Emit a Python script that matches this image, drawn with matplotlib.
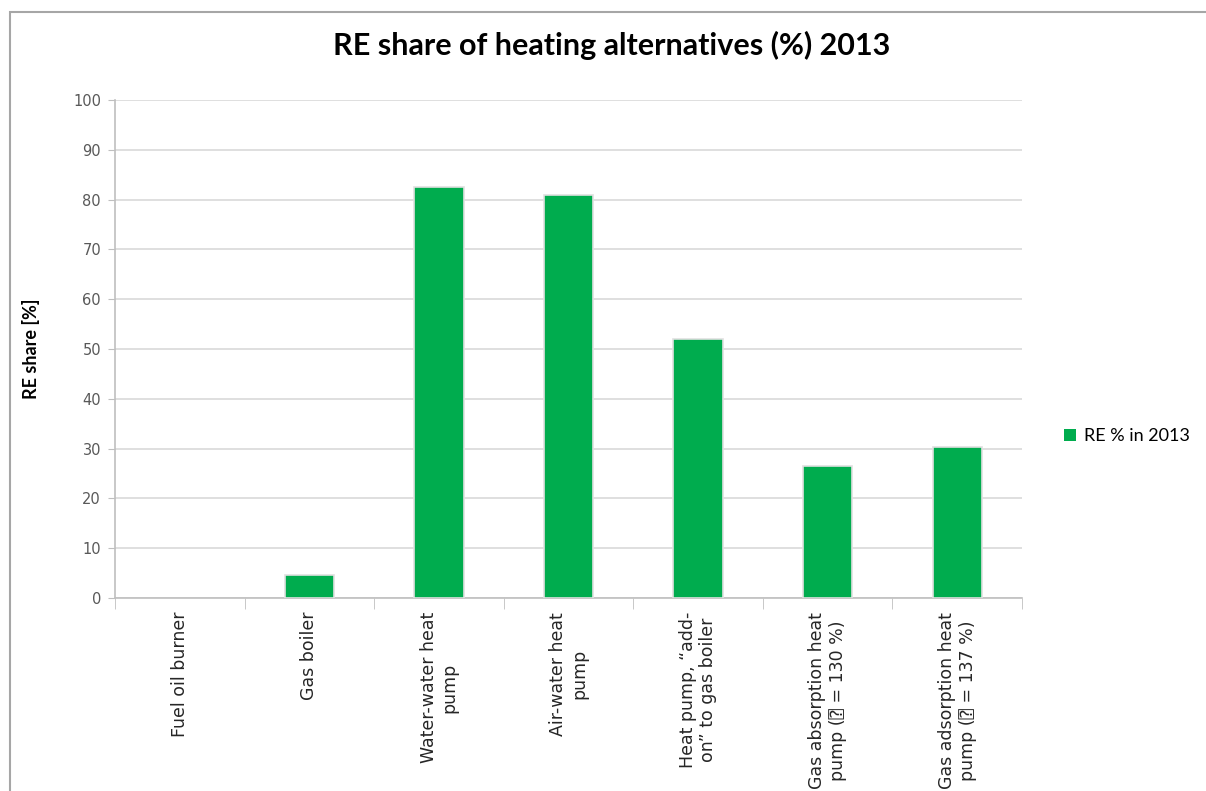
import matplotlib
matplotlib.use("Agg")
import matplotlib.pyplot as plt
from matplotlib.patches import Rectangle
import numpy as np

categories = [
    "Fuel oil burner",
    "Gas boiler",
    "Water-water heat\npump",
    "Air-water heat\npump",
    "Heat pump, \u201cadd-\non\u201d to gas boiler",
    "Gas absorption heat\npump (\u2370 = 130 %)",
    "Gas adsorption heat\npump (\u2370 = 137 %)",
]
re_share = [0.0, 4.6, 82.5, 81.0, 52.0, 26.6, 30.3]
series_name = "RE % in 2013"
yticks = list(range(0, 101, 10))

green = "#00AC4E"
grid_col = "#D9D9D9"
axis_col = "#BFBFBF"

fig = plt.figure(figsize=(12.06, 7.91), dpi=100)

# chart frame
fig.patches.append(Rectangle((10 / 1206, -0.1), 1.2, 0.1 + 1 - 12 / 791,
                             transform=fig.transFigure, fill=False,
                             edgecolor="#A6A6A6", linewidth=1.5))

ax = fig.add_axes([115 / 1206, 1 - 598 / 791, 907 / 1206, 498 / 791])

x = np.arange(len(categories))
edges = ["#E0E0E0" if v > 0 else "none" for v in re_share]
ax.bar(x, re_share, width=0.38, color=green, edgecolor=edges,
       linewidth=1.2, label=series_name, zorder=3)

ax.set_xlim(-0.5, len(categories) - 0.5)
ax.set_ylim(0, 100)
ax.set_yticks(yticks)
ax.set_yticklabels([str(v) for v in yticks], fontsize=10.5, color="#595959")
ax.yaxis.grid(True, color=grid_col, linewidth=1.2, zorder=0)
ax.tick_params(axis="y", length=5, color=axis_col, pad=5)

ax.set_xticks(x)
ax.set_xticklabels(categories, rotation=90, ha="center", va="top",
                   multialignment="center", fontsize=12.5, color="#262626",
                   family=["DejaVu Sans", "DejaVu Sans Mono"])
ax.tick_params(axis="x", length=0, pad=10)
ax.set_xticks(np.arange(len(categories) + 1) - 0.5, minor=True)
ax.tick_params(axis="x", which="minor", length=8, color=axis_col)

for s in ["top", "right"]:
    ax.spines[s].set_visible(False)
for s in ["left", "bottom"]:
    ax.spines[s].set_color(axis_col)
    ax.spines[s].set_linewidth(1.2)

ax.set_ylabel("RE share [%]", fontsize=13, fontweight="bold",
              family="Lato", color="#000000", labelpad=24)

fig.text(612 / 1206, 1 - 45 / 791,
         "RE share of heating alternatives (%) 2013",
         ha="center", va="center", fontsize=22, fontweight="bold",
         family="Lato", color="#000000")

ax.legend(loc="center left", bbox_to_anchor=(1.028, 0.325), frameon=False,
          handlelength=0.7, handleheight=0.7, handletextpad=0.4,
          prop={"family": "Lato", "size": 13})

fig.savefig("out.png", dpi=100)
